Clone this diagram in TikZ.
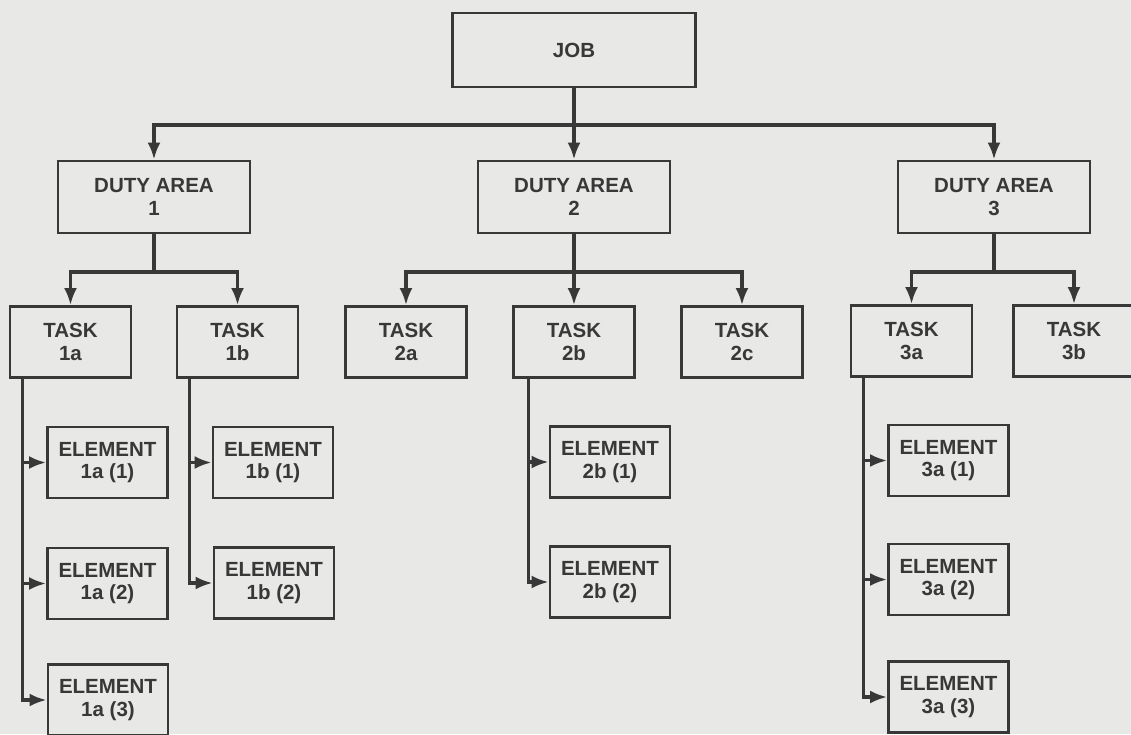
\documentclass[tikz,border=0pt]{standalone}
\usepackage{fontspec}
\setmainfont{Liberation Sans}
\usetikzlibrary{arrows.meta,calc}
\definecolor{bg}{HTML}{E8E8E6}
\definecolor{ink}{HTML}{383838}
\begin{document}
\begin{tikzpicture}[x=1pt,y=-1pt,
  box/.style={draw=ink,line width=2.8pt,fill=bg,inner sep=0pt,align=center,
    text=ink,font=\fontsize{20.5}{22.5}\selectfont\bfseries},
  job/.style={box,minimum width=243pt,minimum height=74pt},
  duty/.style={box,minimum width=192pt,minimum height=72pt},
  task/.style={box,minimum width=121pt,minimum height=71pt},
  elem/.style={box,minimum width=120pt,minimum height=71pt},
  conn/.style={draw=ink,line width=3.2pt},
  arr/.style={conn,-{Latex[length=17pt,width=13pt]}}]
\fill[bg] (0,0) rectangle (1131,734);
\useasboundingbox (0,0) rectangle (1131,734);
% nodes
\node[job] (job) at (574,50) {JOB};
\node[duty] (d1) at (154,197) {DUTY AREA\\1};
\node[duty] (d2) at (574,197) {DUTY AREA\\2};
\node[duty] (d3) at (994,197) {DUTY AREA\\3};
\node[task] (t1a) at (70.5,342) {TASK\\1a};
\node[task] (t1b) at (237.5,342) {TASK\\1b};
\node[task] (t2a) at (406,342) {TASK\\2a};
\node[task] (t2b) at (574,342) {TASK\\2b};
\node[task] (t2c) at (742,342) {TASK\\2c};
\node[task] (t3a) at (911.5,341) {TASK\\3a};
\node[task] (t3b) at (1074,341) {TASK\\3b};
\node[elem] (e1a1) at (107.5,462.5) {ELEMENT\\1a (1)};
\node[elem] (e1a2) at (107.5,583.5) {ELEMENT\\1a (2)};
\node[elem] (e1a3) at (108,700) {ELEMENT\\1a (3)};
\node[elem] (e1b1) at (273,462.5) {ELEMENT\\1b (1)};
\node[elem] (e1b2) at (274,583) {ELEMENT\\1b (2)};
\node[elem] (e2b1) at (610,462) {ELEMENT\\2b (1)};
\node[elem] (e2b2) at (610,582) {ELEMENT\\2b (2)};
\node[elem] (e3a1) at (948.5,460.5) {ELEMENT\\3a (1)};
\node[elem] (e3a2) at (948.5,579.5) {ELEMENT\\3a (2)};
\node[elem] (e3a3) at (948.5,697) {ELEMENT\\3a (3)};
% bus coordinates
\coordinate (b0) at (0,125);
\coordinate (b1) at (0,272);
\coordinate (b2) at (0,272);
\coordinate (b3) at (0,272);
% job to duty areas
\draw[arr] (job.south) -- (job.south |- b0) -| (d1.north);
\draw[arr] (job.south) -- (job.south |- b0) -| (d3.north);
\draw[arr] (job.south) -- (d2.north);
% duty areas to tasks
\draw[arr] (d1.south) -- (d1.south |- b1) -| (t1a.north);
\draw[arr] (d1.south) -- (d1.south |- b1) -| (t1b.north);
\draw[arr] (d2.south) -- (d2.south |- b2) -| (t2a.north);
\draw[arr] (d2.south) -- (d2.south |- b2) -| (t2c.north);
\draw[arr] (d2.south) -- (t2b.north);
\draw[arr] (d3.south) -- (d3.south |- b3) -| (t3a.north);
\draw[arr] (d3.south) -- (d3.south |- b3) -| (t3b.north);
% tasks to elements
\coordinate (s1a) at ($(t1a.south west)+(14,0)$);
\coordinate (s1b) at ($(t1b.south west)+(14,0)$);
\coordinate (s2b) at ($(t2b.south west)+(16,0)$);
\coordinate (s3a) at ($(t3a.south west)+(14,0)$);
\draw[arr] (s1a) |- (e1a1.west);
\draw[arr] (s1a) |- (e1a2.west);
\draw[arr] (s1a) |- (e1a3.west);
\draw[arr] (s1b) |- (e1b1.west);
\draw[arr] (s1b) |- (e1b2.west);
\draw[arr] (s2b) |- (e2b1.west);
\draw[arr] (s2b) |- (e2b2.west);
\draw[arr] (s3a) |- (e3a1.west);
\draw[arr] (s3a) |- (e3a2.west);
\draw[arr] (s3a) |- (e3a3.west);
\end{tikzpicture}
\end{document}
